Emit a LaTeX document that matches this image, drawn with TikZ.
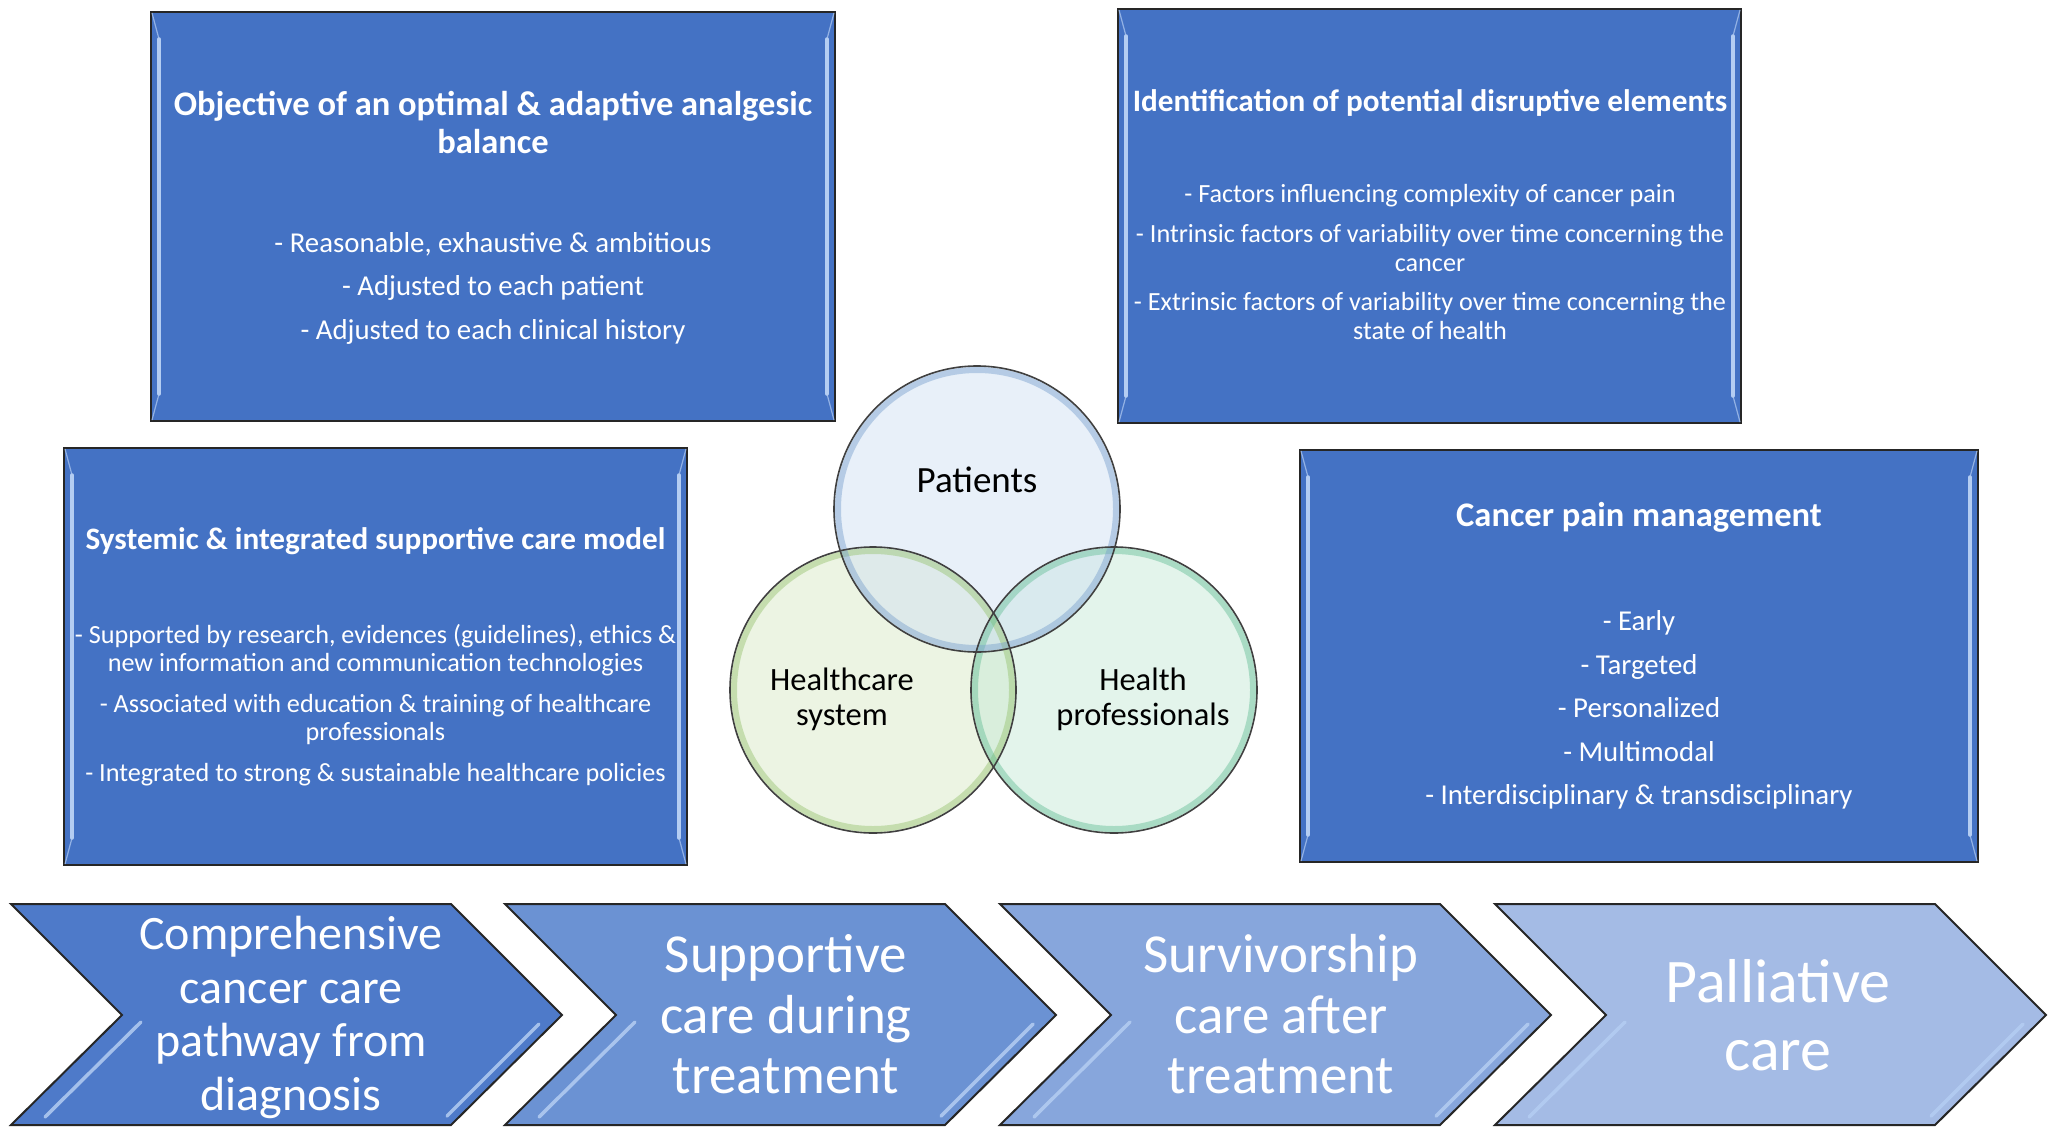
\documentclass[tikz,border=0pt]{standalone}
\usepackage{fontspec}
\setmainfont{Carlito}
\definecolor{boxblue}{RGB}{68,114,196}
\definecolor{bevel}{RGB}{180,205,242}
\definecolor{chA}{RGB}{78,122,201}
\definecolor{chB}{RGB}{107,146,211}
\definecolor{chC}{RGB}{135,166,220}
\definecolor{chD}{RGB}{164,187,229}
\definecolor{patfill}{RGB}{205,222,243}
\definecolor{hcfill}{RGB}{215,232,195}
\definecolor{hpfill}{RGB}{195,232,212}
\definecolor{patring}{RGB}{120,160,205}
\definecolor{hcring}{RGB}{150,195,110}
\definecolor{hpring}{RGB}{100,190,150}
\tikzset{
  panel/.style={draw=black!85, line width=2pt, fill=boxblue, inner sep=0pt},
  bevelline/.style={draw=bevel, line width=3.5pt, line cap=round},
  ptitleL/.style={text=white, align=center, inner sep=0pt, font=\bfseries\fontsize{34.5}{38}\selectfont},
  ptitleS/.style={text=white, align=center, inner sep=0pt, font=\bfseries\fontsize{31.2}{38}\selectfont},
  pbody/.style={text=white, align=center, inner sep=0pt, font=\fontsize{26.2}{28.5}\selectfont},
  pbodywide/.style={text=white, align=center, inner sep=0pt, font=\fontsize{28.8}{43.5}\selectfont},
  chevron/.style={draw=black!85, line width=2pt, line join=miter},
  chbevel/.style={draw=bevel, line width=3.5pt, line cap=round, opacity=0.85},
  chtext/.style={text=white, align=center, inner sep=0pt},
  vennc/.style={circle, inner sep=0pt, minimum size=286pt, fill opacity=0.45},
  vlabel/.style={text=black, align=center, inner sep=0pt, font=\fontsize{32.5}{35.5}\selectfont},
}
\newcommand\panelbevel[1]{%
  \draw[bevelline] ([xshift=9pt,yshift=-28pt]#1.north west) -- ([xshift=9pt,yshift=28pt]#1.south west);
  \draw[bevelline] ([xshift=-9pt,yshift=-28pt]#1.north east) -- ([xshift=-9pt,yshift=28pt]#1.south east);
  \draw[bevel, line width=1.2pt, opacity=0.7] ([xshift=2pt,yshift=-2pt]#1.north west) -- ([xshift=9pt,yshift=-28pt]#1.north west);
  \draw[bevel, line width=1.2pt, opacity=0.7] ([xshift=-2pt,yshift=-2pt]#1.north east) -- ([xshift=-9pt,yshift=-28pt]#1.north east);
  \draw[bevel, line width=1.2pt, opacity=0.7] ([xshift=2pt,yshift=2pt]#1.south west) -- ([xshift=9pt,yshift=28pt]#1.south west);
  \draw[bevel, line width=1.2pt, opacity=0.7] ([xshift=-2pt,yshift=2pt]#1.south east) -- ([xshift=-9pt,yshift=28pt]#1.south east);
}
\begin{document}
\begin{tikzpicture}[x=1pt,y=-1pt]
\useasboundingbox (0,0) rectangle (2064,1127);
\fill[white] (0,0) rectangle (2064,1127);

% ---------- panels ----------
\node[panel, minimum width=684pt, minimum height=409pt] (b1) at (493,216.5) {};
\node[panel, minimum width=623pt, minimum height=414pt] (b2) at (1429.5,216) {};
\node[panel, minimum width=623pt, minimum height=417pt] (b3) at (375.5,656.5) {};
\node[panel, minimum width=678pt, minimum height=412pt] (b4) at (1639,656) {};
\panelbevel{b1}
\panelbevel{b2}
\panelbevel{b3}
\panelbevel{b4}

\node[ptitleL] (t1) at (493,122) {Objective of an optimal \& adaptive analgesic\\balance};
\node[pbodywide] (d1) at (493,288) {- Reasonable, exhaustive \& ambitious\\- Adjusted to each patient\\- Adjusted to each clinical history};

\node[ptitleS] (t2) at (1430,103) {Identification of potential disruptive elements};
\node[pbody] (d2) at (1430,261.5) {- Factors influencing complexity of cancer pain\\[12pt]- Intrinsic factors of variability over time concerning the\\cancer\\[11pt]- Extrinsic factors of variability over time concerning the\\state of health};

\node[ptitleS] (t3) at (375.5,541) {Systemic \& integrated supportive care model};
\node[pbody] (d3) at (375.5,705) {- Supported by research, evidences (guidelines), ethics \&\\new information and communication technologies\\[12pt]- Associated with education \& training of healthcare\\professionals\\[12pt]- Integrated to strong \& sustainable healthcare policies};

\node[ptitleL] (t4) at (1639,517) {Cancer pain management};
\node[pbodywide] (d4) at (1639,710) {- Early\\- Targeted\\- Personalized\\- Multimodal\\- Interdisciplinary \& transdisciplinary};

% ---------- Venn ----------
\node[vennc, fill=hcfill] (hc) at (873,690) {};
\node[vennc, fill=hpfill] (hp) at (1114,690) {};
\node[vennc, fill=patfill] (pat) at (977,509) {};
\draw[hcring, line width=6pt, opacity=0.45] (hc.center) circle[radius=139pt];
\draw[hpring, line width=6pt, opacity=0.45] (hp.center) circle[radius=139pt];
\draw[patring, line width=6pt, opacity=0.45] (pat.center) circle[radius=139pt];
\draw[black!75, line width=1.6pt] (hc.center) circle[radius=143pt];
\draw[black!75, line width=1.6pt] (hp.center) circle[radius=143pt];
\draw[black!75, line width=1.6pt] (pat.center) circle[radius=143pt];
\node[vlabel, font=\fontsize{37}{40}\selectfont] (lpat) at (977,480) {Patients};
\node[vlabel] (lhc) at (842,699.5) {Healthcare\\system};
\node[vlabel] (lhp) at (1143,699.5) {Health\\professionals};

% ---------- chevrons ----------
\draw[chevron, fill=chA] (11,904) -- (451,904) -- (562,1015) -- (451,1125) -- (11,1125) -- (122,1015) -- cycle;
\draw[chevron, fill=chB] (505,904) -- (945,904) -- (1056,1015) -- (945,1125) -- (505,1125) -- (616,1015) -- cycle;
\draw[chevron, fill=chC] (1000,904) -- (1440,904) -- (1551,1015) -- (1440,1125) -- (1000,1125) -- (1111,1015) -- cycle;
\draw[chevron, fill=chD] (1495,904) -- (1935,904) -- (2046,1015) -- (1935,1125) -- (1495,1125) -- (1606,1015) -- cycle;
\foreach \xo in {11,505,1000,1495}{
  \draw[chbevel] (\xo+130,1022) -- (\xo+34,1117);
  \draw[chbevel] (\xo+528,1024) -- (\xo+436,1116);
}
\node[chtext, font=\fontsize{48}{53.6}\selectfont] (c1) at (291,1017.5) {Comprehensive\\cancer care\\pathway from\\diagnosis};
\node[chtext, font=\fontsize{55}{60.5}\selectfont] (c2) at (786,1014.5) {Supportive\\care during\\treatment};
\node[chtext, font=\fontsize{55}{60.5}\selectfont] (c3) at (1281,1014.5) {Survivorship\\care after\\treatment};
\node[chtext, font=\fontsize{62}{68}\selectfont] (c4) at (1778,1015) {Palliative\\care};
\end{tikzpicture}
\end{document}
